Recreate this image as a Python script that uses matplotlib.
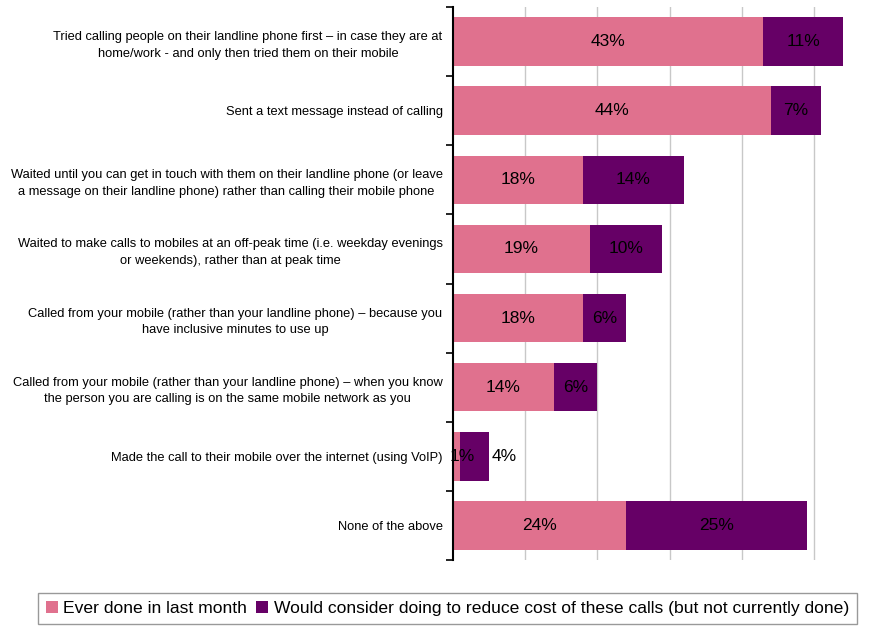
import matplotlib.pyplot as plt
import numpy as np

plt.rcParams['font.family'] = ['Liberation Sans', 'DejaVu Sans']

categories = [
    "Tried calling people on their landline phone first \u2013 in case they are at\nhome/work - and only then tried them on their mobile",
    "Sent a text message instead of calling",
    "Waited until you can get in touch with them on their landline phone (or leave\na message on their landline phone) rather than calling their mobile phone",
    "Waited to make calls to mobiles at an off-peak time (i.e. weekday evenings\nor weekends), rather than at peak time",
    "Called from your mobile (rather than your landline phone) \u2013 because you\nhave inclusive minutes to use up",
    "Called from your mobile (rather than your landline phone) \u2013 when you know\nthe person you are calling is on the same mobile network as you",
    "Made the call to their mobile over the internet (using VoIP)",
    "None of the above",
]
ever_done = [43, 44, 18, 19, 18, 14, 1, 24]
would_consider = [11, 7, 14, 10, 6, 6, 4, 25]
series_names = ["Ever done in last month",
                "Would consider doing to reduce cost of these calls (but not currently done)"]

PINK = '#E0718E'
PURPLE = '#660066'

fig = plt.figure(figsize=(8.69, 6.26), dpi=100)
ax = fig.add_axes([453/869, 1 - 560/626, (866 - 453)/869, (560 - 7)/626])

y = np.arange(len(categories))
h = 0.7
b1 = ax.barh(y, ever_done, height=h, color=PINK, label=series_names[0])
b2 = ax.barh(y, would_consider, left=ever_done, height=h, color=PURPLE,
             label=series_names[1])

for i in range(len(categories)):
    a = ever_done[i]
    c = would_consider[i]
    ax.text(a / 2 + (0.8 if a < 3 else 0), y[i], f'{a}%', ha='center', va='center', fontsize=12.5)
    if c < 5:
        ax.text(a + c + 0.4, y[i], f'{c}%', ha='left', va='center', fontsize=12.5)
    else:
        ax.text(a + c / 2, y[i], f'{c}%', ha='center', va='center', fontsize=12.5)

ax.set_xlim(0, 57.2)
ax.set_ylim(len(categories) - 0.5, -0.5)
ax.set_xticks([10, 20, 30, 40, 50])
ax.grid(axis='x', color='#c8c8c8', linewidth=1)
ax.set_axisbelow(True)
ax.tick_params(axis='x', length=0, labelbottom=False)

ax.set_yticks(y)
ax.set_yticklabels(categories, fontsize=9.3, multialignment='center', linespacing=1.5)
ax.set_yticks(np.arange(len(categories) + 1) - 0.5, minor=True)
ax.tick_params(axis='y', which='major', length=0, pad=7.5)
ax.tick_params(axis='y', which='minor', length=5, width=1.2, color='black')

for s in ['top', 'right', 'bottom']:
    ax.spines[s].set_visible(False)
ax.spines['left'].set_linewidth(1.5)

fig.legend(handles=[b1, b2], labels=series_names, loc='upper left',
           bbox_to_anchor=(38/869, 1 - 593/626), ncol=2, fontsize=12.6,
           frameon=True, fancybox=False, edgecolor='#808080',
           handlelength=0.7, handleheight=0.7, handletextpad=0.3,
           columnspacing=0.5, borderpad=0.45, borderaxespad=0)

fig.savefig('out.png', dpi=100)
